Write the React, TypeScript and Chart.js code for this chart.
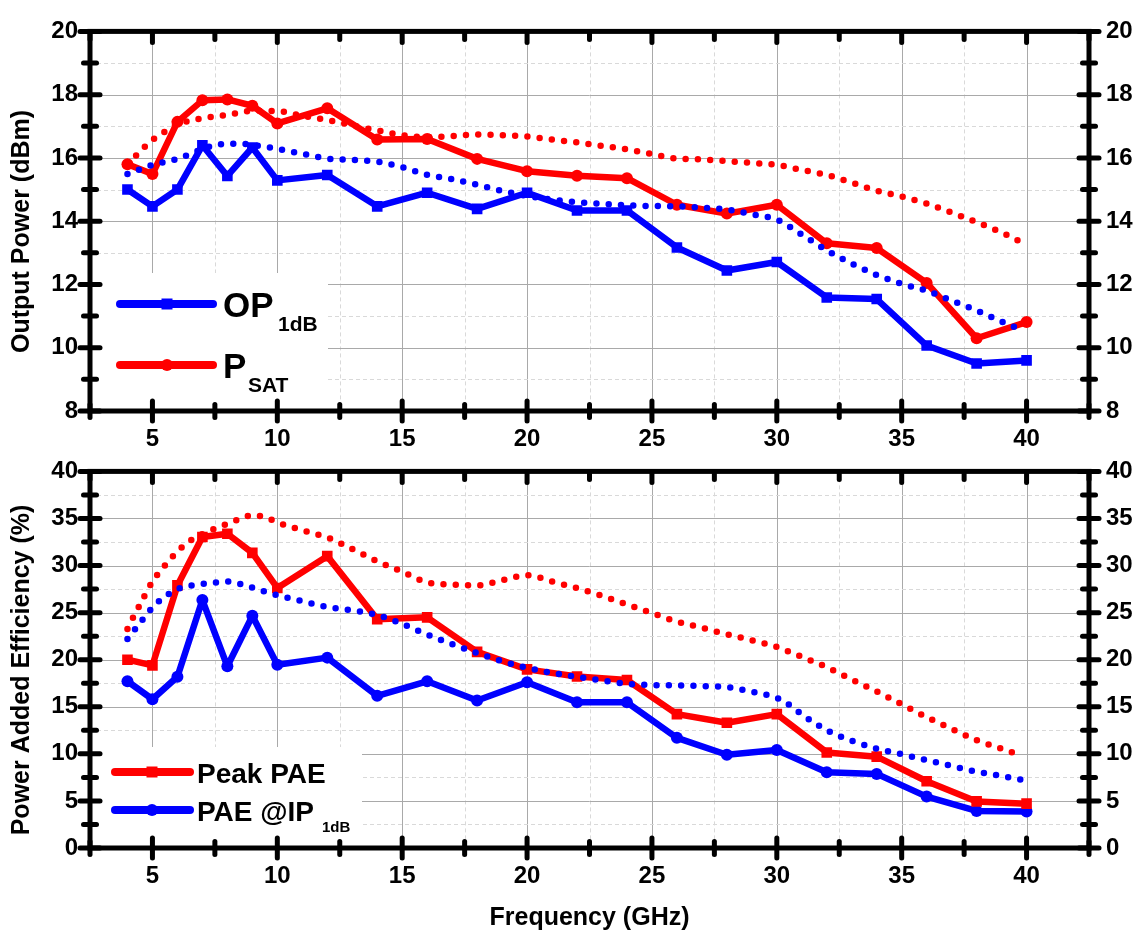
import React, { useEffect, useRef } from 'react';
import { Chart, registerables } from 'chart.js';
Chart.register(...registerables);

// ---------------- data ----------------
const freq = [4, 5, 6, 7, 8, 9, 10, 12, 14, 16, 18, 20, 22, 24, 26, 28, 30, 32, 34, 36, 38, 40];
const op1dB = [15.0, 14.47, 15.0, 16.4, 15.43, 16.33, 15.29, 15.46, 14.47, 14.9, 14.39, 14.9, 14.34, 14.34, 13.17, 12.44, 12.71, 11.59, 11.54, 10.07, 9.5, 9.6];
const psat = [15.8, 15.49, 17.14, 17.82, 17.85, 17.65, 17.09, 17.57, 16.58, 16.6, 15.97, 15.58, 15.44, 15.36, 14.52, 14.24, 14.52, 13.3, 13.15, 12.05, 10.3, 10.81];
const peakPae = [20.0, 19.4, 27.89, 33.04, 33.38, 31.35, 27.62, 31.0, 24.3, 24.5, 20.83, 18.97, 18.22, 17.84, 14.22, 13.3, 14.22, 10.15, 9.7, 7.09, 4.95, 4.71];
const paeIp = [17.71, 15.8, 18.19, 26.33, 19.3, 24.66, 19.47, 20.22, 16.16, 17.71, 15.67, 17.61, 15.47, 15.47, 11.7, 9.9, 10.41, 8.04, 7.87, 5.46, 3.94, 3.87];

// simulated (dotted) curves
const simOpFreq = [4, 4.5, 5, 6, 7, 7.5, 8, 8.5, 9, 10, 11, 12, 13, 14, 15, 16, 17, 18, 19, 20, 21, 22, 23, 24, 25, 26, 27, 28, 29, 30, 31, 32, 33, 34, 35, 36, 37, 38, 39, 39.6];
const simOp = [15.49, 15.64, 15.78, 15.97, 16.28, 16.4, 16.45, 16.45, 16.41, 16.29, 16.13, 15.98, 15.94, 15.88, 15.71, 15.47, 15.33, 15.15, 14.96, 14.8, 14.68, 14.6, 14.55, 14.5, 14.48, 14.47, 14.43, 14.37, 14.22, 14.05, 13.58, 13.08, 12.66, 12.3, 12.02, 11.8, 11.49, 11.18, 10.83, 10.63];
const simPsatFreq = [4, 4.5, 5, 5.5, 6, 7, 8, 9, 10, 11, 12, 13, 14, 15, 16, 17, 18, 19, 20, 21, 22, 23, 24, 25, 26, 27, 28, 29, 30, 31, 32, 33, 34, 35, 36, 37, 38, 39, 39.75];
const simPsat = [15.8, 16.2, 16.57, 16.83, 17.06, 17.25, 17.36, 17.49, 17.48, 17.33, 17.2, 17.03, 16.87, 16.72, 16.66, 16.69, 16.74, 16.72, 16.68, 16.58, 16.49, 16.38, 16.27, 16.12, 15.98, 15.95, 15.9, 15.84, 15.78, 15.62, 15.46, 15.22, 14.96, 14.78, 14.56, 14.27, 13.97, 13.64, 13.35];
const simPeakFreq = [4, 4.25, 4.5, 5, 5.5, 6, 6.5, 7, 7.5, 8, 8.5, 9, 9.5, 10, 11, 12, 13, 14, 15, 16, 17, 18, 19, 20, 21, 22, 23, 24, 25, 26, 27, 28, 29, 30, 31, 32, 33, 34, 35, 36, 37, 38, 39, 39.8];
const simPeak = [23.27, 24.6, 25.85, 28.3, 30.0, 31.5, 32.62, 33.35, 33.93, 34.43, 34.95, 35.35, 35.15, 34.58, 33.75, 32.98, 31.75, 30.45, 29.35, 28.2, 27.97, 27.89, 28.43, 28.97, 28.3, 27.6, 26.78, 25.87, 24.95, 24.05, 23.4, 22.7, 22.07, 21.35, 20.3, 19.2, 17.9, 16.62, 15.27, 13.9, 12.66, 11.45, 10.55, 9.8];
const simIpFreq = [4, 4.5, 5, 5.5, 6, 6.5, 7, 7.5, 8, 8.5, 9, 9.5, 10, 11, 12, 13, 14, 15, 16, 17, 18, 19, 20, 21, 22, 23, 24, 25, 26, 27, 28, 29, 30, 30.5, 31, 31.5, 32, 33, 34, 35, 36, 37, 38, 39, 39.8];
const simIp = [22.19, 23.9, 25.55, 26.7, 27.5, 27.86, 28.05, 28.2, 28.3, 28.05, 27.65, 27.23, 26.84, 26.22, 25.6, 25.25, 24.75, 23.8, 22.68, 21.65, 20.7, 19.83, 19.15, 18.6, 18.17, 17.8, 17.44, 17.3, 17.27, 17.2, 17.1, 16.6, 15.95, 15.2, 14.2, 13.3, 12.5, 11.4, 10.56, 9.96, 9.33, 8.72, 8.1, 7.65, 7.26];

// axis settings
const xMin = 2.5, xMax = 42.5, xStep = 2.5, xMajor = 5;
const topYMin = 8, topYMax = 20, topYStep = 1, topYMajor = 2;
const botYMin = 0, botYMax = 40, botYStep = 2.5, botYMajor = 5;

const RED = '#FF0000';
const BLUE = '#0000FF';
const FAMILY = "'Liberation Sans', Arial, Helvetica, sans-serif";

const pts = (xs: number[], ys: number[]) => xs.map((x, i) => ({ x, y: ys[i] }));
const isMult = (v: number, m: number) => Math.abs(v / m - Math.round(v / m)) < 1e-6;

function solid(label: string, xs: number[], ys: number[], color: string, style: string) {
  return {
    label,
    data: pts(xs, ys),
    borderColor: color,
    backgroundColor: color,
    borderWidth: 6.5,
    borderJoinStyle: 'round',
    borderCapStyle: 'round',
    pointStyle: style,
    pointRadius: style === 'rect' ? 7.5 : 6,
    pointBorderWidth: 0,
    pointBackgroundColor: color,
    tension: 0,
    fill: false,
    order: 2,
  };
}
function dotted(label: string, xs: number[], ys: number[], color: string) {
  return {
    label,
    data: pts(xs, ys),
    borderColor: color,
    backgroundColor: color,
    borderWidth: 6.5,
    borderDash: [0, 12.3],
    borderCapStyle: 'round',
    pointRadius: 0,
    cubicInterpolationMode: 'monotone',
    fill: false,
    order: 1,
  };
}

type LegendItem = { color: string; marker: 'rect' | 'circle'; y: number; main: string; sub: string; subX: number; size: number; subSize: number; subDy: number };

function makePlugin(o: {
  yMajor: number;
  title: string;
  titleCy: number;
  box: { x2: number; y1: number };
  lineX1: number; lineX2: number; markerX: number; textX: number;
  items: LegendItem[];
}) {
  return {
    id: 'decor',
    beforeDatasetsDraw(chart: any) {
      const { ctx, chartArea: a, scales } = chart;
      const xs = scales.x, ys = scales.y;
      ctx.save();
      // grid
      ctx.lineWidth = 1;
      xs.ticks.forEach((t: any) => {
        const px = Math.round(xs.getPixelForValue(t.value)) + 0.5;
        const major = isMult(t.value, xMajor);
        ctx.strokeStyle = major ? '#a9a9a9' : '#d9d9d9';
        ctx.setLineDash(major ? [] : [4, 3]);
        ctx.beginPath(); ctx.moveTo(px, a.top); ctx.lineTo(px, a.bottom); ctx.stroke();
      });
      ys.ticks.forEach((t: any) => {
        const py = Math.round(ys.getPixelForValue(t.value)) + 0.5;
        const major = isMult(t.value, o.yMajor);
        ctx.strokeStyle = major ? '#a9a9a9' : '#d9d9d9';
        ctx.setLineDash(major ? [] : [4, 3]);
        ctx.beginPath(); ctx.moveTo(a.left, py); ctx.lineTo(a.right, py); ctx.stroke();
      });
      ctx.setLineDash([]);
      // legend box
      ctx.fillStyle = '#ffffff';
      ctx.fillRect(a.left, o.box.y1, o.box.x2 - a.left, a.bottom - o.box.y1);
      // legend entries
      o.items.forEach((it) => {
        ctx.strokeStyle = it.color;
        ctx.lineWidth = 8;
        ctx.lineCap = 'round';
        ctx.beginPath(); ctx.moveTo(o.lineX1, it.y); ctx.lineTo(o.lineX2, it.y); ctx.stroke();
        ctx.fillStyle = it.color;
        if (it.marker === 'rect') {
          ctx.fillRect(o.markerX - 5.5, it.y - 5.5, 11, 11);
        } else {
          ctx.beginPath(); ctx.arc(o.markerX, it.y, 6, 0, Math.PI * 2); ctx.fill();
        }
        ctx.fillStyle = '#000';
        ctx.textAlign = 'left';
        ctx.textBaseline = 'alphabetic';
        ctx.font = `bold ${it.size}px ${FAMILY}`;
        const baseY = it.y + it.size * 0.38;
        ctx.fillText(it.main, o.textX, baseY);
        ctx.font = `bold ${it.subSize}px ${FAMILY}`;
        ctx.fillText(it.sub, it.subX, baseY + it.subDy);
      });
      ctx.restore();
    },
    afterDraw(chart: any) {
      const { ctx, chartArea: a, scales } = chart;
      const xs = scales.x, ys = scales.y;
      ctx.save();
      ctx.strokeStyle = '#000';
      ctx.lineCap = 'round';
      ctx.lineWidth = 5;
      const seg = (x1: number, y1: number, x2: number, y2: number) => {
        ctx.beginPath(); ctx.moveTo(x1, y1); ctx.lineTo(x2, y2); ctx.stroke();
      };
      xs.ticks.forEach((t: any) => {
        const px = xs.getPixelForValue(t.value);
        const major = isMult(t.value, xMajor);
        const L = major ? 10 : 6.5;
        seg(px, a.bottom - L, px, a.bottom + L);
        seg(px, a.top, px, a.top + (major ? 11 : 8));
      });
      ys.ticks.forEach((t: any) => {
        const py = ys.getPixelForValue(t.value);
        const major = isMult(t.value, o.yMajor);
        const L = major ? 10 : 6.5;
        seg(a.left - L, py, a.left + L, py);
        seg(a.right - L, py, a.right + L, py);
      });
      ctx.lineCap = 'square';
      ctx.strokeRect(a.left, a.top, a.right - a.left, a.bottom - a.top);
      // y axis title
      ctx.fillStyle = '#000';
      ctx.font = `bold 25px ${FAMILY}`;
      ctx.translate(29, o.titleCy);
      ctx.rotate(-Math.PI / 2);
      ctx.textAlign = 'center';
      ctx.textBaseline = 'alphabetic';
      ctx.fillText(o.title, 0, 0);
      ctx.restore();
    },
  };
}

function tickFont() {
  return { family: FAMILY, size: 24, weight: 'bold' as const };
}

function buildConfig(opts: {
  datasets: any[];
  yMin: number; yMax: number; yStep: number; yMajor: number;
  topPad: number; xHeight: number; xTitle: boolean;
  plugin: any;
}) {
  return {
    type: 'line' as const,
    data: { datasets: opts.datasets },
    plugins: [opts.plugin],
    options: {
      responsive: false,
      animation: false as const,
      events: [],
      layout: { padding: { top: opts.topPad, left: 0, right: 0, bottom: 0 } },
      plugins: { legend: { display: false }, tooltip: { enabled: false } },
      scales: {
        x: {
          type: 'linear' as const,
          position: 'bottom' as const,
          min: xMin, max: xMax,
          afterFit: (s: any) => { s.height = opts.xHeight; },
          ticks: {
            stepSize: xStep, autoSkip: false, maxRotation: 0, padding: 14,
            color: '#000', font: tickFont(),
            callback: (v: any) => (isMult(Number(v), xMajor) ? String(v) : ''),
          },
          grid: { display: false, drawTicks: false },
          border: { display: false },
          title: {
            display: opts.xTitle, text: 'Frequency (GHz)', color: '#000',
            font: { family: FAMILY, size: 25, weight: 'bold' as const },
            padding: { top: 0, bottom: 0 },
          },
        },
        y: {
          type: 'linear' as const,
          position: 'left' as const,
          min: opts.yMin, max: opts.yMax,
          afterFit: (s: any) => { s.width = 90; },
          ticks: {
            stepSize: opts.yStep, autoSkip: false, padding: 12,
            color: '#000', font: tickFont(),
            callback: (v: any) => (isMult(Number(v), opts.yMajor) ? String(v) : ''),
          },
          grid: { display: false, drawTicks: false },
          border: { display: false },
        },
        y2: {
          type: 'linear' as const,
          position: 'right' as const,
          min: opts.yMin, max: opts.yMax,
          afterFit: (s: any) => { s.width = 52; },
          ticks: {
            stepSize: opts.yStep, autoSkip: false, padding: 17,
            color: '#000', font: tickFont(),
            callback: (v: any) => (isMult(Number(v), opts.yMajor) ? String(v) : ''),
          },
          grid: { display: false, drawTicks: false },
          border: { display: false },
        },
      },
    },
  };
}

export default function App() {
  const topRef = useRef<HTMLCanvasElement>(null);
  const botRef = useRef<HTMLCanvasElement>(null);

  useEffect(() => {
    const topPlugin = makePlugin({
      yMajor: topYMajor,
      title: 'Output Power (dBm)',
      titleCy: 231.5,
      box: { x2: 328, y1: 273 },
      lineX1: 120, lineX2: 213, markerX: 167, textX: 223,
      items: [
        { color: BLUE, marker: 'rect', y: 304, main: 'OP', sub: '1dB', subX: 278, size: 35, subSize: 21, subDy: 14 },
        { color: RED, marker: 'circle', y: 365, main: 'P', sub: 'SAT', subX: 248, size: 35, subSize: 21, subDy: 14 },
      ],
    });
    const botPlugin = makePlugin({
      yMajor: botYMajor,
      title: 'Power Added Efficiency (%)',
      titleCy: 230,
      box: { x2: 362, y1: 307 },
      lineX1: 115, lineX2: 190, markerX: 152, textX: 197,
      items: [
        { color: RED, marker: 'rect', y: 332, main: 'Peak PAE', sub: '', subX: 0, size: 28, subSize: 15, subDy: 11 },
        { color: BLUE, marker: 'circle', y: 370, main: 'PAE @IP', sub: '1dB', subX: 322, size: 28, subSize: 15, subDy: 11 },
      ],
    });

    const c1 = new Chart(topRef.current as HTMLCanvasElement, buildConfig({
      datasets: [
        dotted('OP1dB sim', simOpFreq, simOp, BLUE),
        dotted('PSAT sim', simPsatFreq, simPsat, RED),
        solid('PSAT', freq, psat, RED, 'circle'),
        solid('OP1dB', freq, op1dB, BLUE, 'rect'),
      ],
      yMin: topYMin, yMax: topYMax, yStep: topYStep, yMajor: topYMajor,
      topPad: 18, xHeight: 44, xTitle: false, plugin: topPlugin,
    }) as any);

    const c2 = new Chart(botRef.current as HTMLCanvasElement, buildConfig({
      datasets: [
        dotted('PAE@IP1dB sim', simIpFreq, simIp, BLUE),
        dotted('Peak PAE sim', simPeakFreq, simPeak, RED),
        solid('Peak PAE', freq, peakPae, RED, 'rect'),
        solid('PAE @IP1dB', freq, paeIp, BLUE, 'circle'),
      ],
      yMin: botYMin, yMax: botYMax, yStep: botYStep, yMajor: botYMajor,
      topPad: 15, xHeight: 85, xTitle: true, plugin: botPlugin,
    }) as any);

    return () => { c1.destroy(); c2.destroy(); };
  }, []);

  return (
    <div style={{ position: 'absolute', left: 0, top: 0, width: 1141, height: 933, background: '#ffffff' }}>
      <canvas ref={topRef} width={1141} height={455} style={{ position: 'absolute', left: 0, top: 0 }} />
      <canvas ref={botRef} width={1141} height={493} style={{ position: 'absolute', left: 0, top: 440 }} />
    </div>
  );
}
